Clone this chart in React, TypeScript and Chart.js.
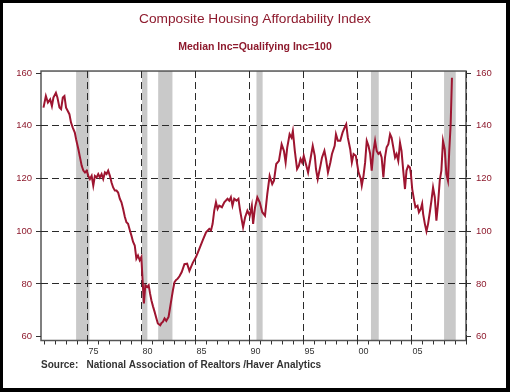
import { useEffect, useRef } from "react";
import { Chart, registerables } from "chart.js";

Chart.register(...registerables);

// ---- data ----
const years = [
  1970.88, 1971.1, 1971.29, 1971.5, 1971.66, 1971.8, 1972.03, 1972.17, 1972.36, 1972.51,
  1972.67, 1972.82, 1972.97, 1973.13, 1973.28, 1973.43, 1973.59, 1973.78, 1973.9, 1974.11,
  1974.26, 1974.42, 1974.57, 1974.72, 1974.88, 1975.03, 1975.18, 1975.34, 1975.49, 1975.64,
  1975.8, 1975.95, 1976.1, 1976.26, 1976.41, 1976.57, 1976.72, 1976.87, 1977.03, 1977.18,
  1977.33, 1977.49, 1977.64, 1977.79, 1977.95, 1978.1, 1978.25, 1978.41, 1978.56, 1978.71,
  1978.87, 1979.02, 1979.17, 1979.33, 1979.48, 1979.63, 1979.79, 1979.94, 1980.04, 1980.18,
  1980.31, 1980.5, 1980.62, 1980.74, 1980.87, 1981.02, 1981.17, 1981.33, 1981.47, 1981.69,
  1981.81, 1981.93, 1982.09, 1982.25, 1982.46, 1982.58, 1982.71, 1982.86, 1983.01, 1983.16,
  1983.31, 1983.47, 1983.68, 1983.93, 1984.18, 1984.39, 1984.7, 1985.0, 1985.31, 1985.62,
  1985.93, 1986.23, 1986.39, 1986.54, 1986.69, 1986.85, 1987.0, 1987.15, 1987.4, 1987.62,
  1987.92, 1988.08, 1988.23, 1988.38, 1988.54, 1988.75, 1988.93, 1989.06, 1989.25, 1989.36,
  1989.55, 1989.76, 1989.98, 1990.17, 1990.29, 1990.47, 1990.68, 1990.9, 1991.14, 1991.39,
  1991.6, 1991.82, 1992.06, 1992.22, 1992.43, 1992.68, 1992.93, 1993.14, 1993.3, 1993.45,
  1993.67, 1993.85, 1993.97, 1994.15, 1994.36, 1994.52, 1994.68, 1994.83, 1994.98, 1995.14,
  1995.38, 1995.6, 1995.81, 1996.0, 1996.11, 1996.27, 1996.52, 1996.67, 1996.89, 1997.04,
  1997.22, 1997.44, 1997.59, 1997.84, 1997.96, 1998.14, 1998.36, 1998.57, 1998.76, 1998.91,
  1999.06, 1999.28, 1999.43, 1999.59, 1999.8, 2000.05, 2000.26, 2000.35, 2000.51, 2000.66,
  2000.81, 2000.97, 2001.12, 2001.27, 2001.43, 2001.58, 2001.73, 2001.89, 2002.04, 2002.19,
  2002.35, 2002.5, 2002.65, 2002.81, 2002.97, 2003.11, 2003.27, 2003.43, 2003.57, 2003.73,
  2003.89, 2004.03, 2004.19, 2004.35, 2004.49, 2004.65, 2004.81, 2004.9, 2005.02, 2005.2,
  2005.32, 2005.51, 2005.64, 2005.82, 2005.94, 2006.03, 2006.19, 2006.34, 2006.49, 2006.65,
  2006.8, 2006.95, 2007.11, 2007.26, 2007.41, 2007.57, 2007.72, 2007.87, 2008.03, 2008.18,
  2008.33, 2008.45, 2008.58, 2008.7,
];

const affordability = [
  146.9, 151.3, 148.8, 150.0, 147.5, 150.7, 152.5, 150.7, 146.9, 146.3,
  150.7, 151.3, 146.9, 145.6, 144.4, 141.2, 139.3, 137.4, 134.9, 131.1,
  128.0, 124.8, 123.0, 122.3, 123.0, 121.0, 119.8, 121.0, 117.3, 121.0,
  120.4, 121.7, 120.4, 121.7, 119.8, 122.3, 121.7, 123.0, 121.0, 118.5,
  116.6, 115.4, 115.4, 114.7, 112.3, 111.0, 108.5, 105.5, 103.4, 102.8,
  100.5, 98.4, 96.0, 94.6, 89.6, 90.8, 89.0, 90.2, 82.6, 72.6,
  79.5, 78.8, 79.5, 76.5, 73.8, 71.5, 69.4, 67.0, 65.0, 64.3,
  65.2, 65.6, 66.9, 66.0, 67.5, 70.5, 73.8, 77.5, 80.7, 81.5,
  82.0, 82.9, 84.5, 87.5, 87.7, 85.0, 88.0, 90.2, 93.3, 96.5,
  99.6, 100.9, 100.3, 102.8, 107.8, 111.0, 108.5, 109.7, 109.1, 111.0,
  112.3, 111.6, 112.9, 109.7, 112.3, 111.6, 112.3, 108.5, 104.0, 101.5,
  105.3, 107.8, 105.9, 109.7, 102.8, 109.1, 112.9, 111.0, 107.2, 105.9,
  114.1, 121.0, 117.9, 119.2, 125.5, 126.7, 133.0, 130.5, 126.1, 131.8,
  136.8, 135.5, 138.0, 130.5, 123.6, 124.8, 127.4, 126.1, 128.6, 126.1,
  122.3, 127.4, 132.4, 128.6, 123.6, 119.8, 124.8, 128.0, 130.5, 127.4,
  122.3, 126.1, 129.3, 132.4, 136.8, 134.3, 134.3, 137.4, 139.3, 140.6,
  135.5, 131.1, 126.1, 129.3, 128.6, 122.3, 119.8, 117.3, 121.0, 126.1,
  134.3, 132.4, 129.5, 123.0, 130.5, 134.3, 130.5, 129.3, 129.9, 128.0,
  120.4, 128.0, 131.8, 133.0, 136.8, 135.5, 131.8, 128.0, 129.3, 126.7,
  133.6, 130.5, 123.0, 116.0, 123.0, 124.8, 124.2, 121.7, 116.0, 111.6,
  109.1, 109.7, 107.2, 108.5, 110.4, 106.6, 102.8, 100.0, 102.8, 107.2,
  111.6, 116.6, 112.9, 104.0, 110.4, 119.2, 123.0, 134.3, 131.1, 121.7,
  119.2, 130.5, 140.6, 158.2,
];

const recessionStarts = [1973.9, 1980.0, 1981.5, 1990.6, 2001.2, 2007.97];
const recessionEnds = [1975.13, 1980.5, 1982.82, 1991.17, 2001.92, 2009.05];

const yTickValues = [60, 80, 100, 120, 140, 160];
const xLabelYears = [1975, 1980, 1985, 1990, 1995, 2000, 2005];

const titleText = "Composite Housing Affordability Index";
const subtitleText = "Median Inc=Qualifying Inc=100";
const sourceText = "Source:   National Association of Realtors /Haver Analytics";

const X_MIN = 1970.65;
const X_MAX = 2010;
const Y_MIN = 58.55;
const Y_MAX = 160.76;

const FONT = "'Liberation Sans', Arial, Helvetica, sans-serif";
const RED = "#8E1B2E";
const LINE_RED = "#9E1530";
const GRID = "#2a2a2a";

const backdropPlugin = {
  id: "backdrop",
  beforeDraw(chart: any) {
    const { ctx, chartArea: a, scales } = chart;
    const x = scales.x;
    ctx.save();
    // outer black frame
    ctx.fillStyle = "#000";
    ctx.fillRect(0, 0, chart.width, chart.height);
    ctx.fillStyle = "#fff";
    ctx.fillRect(3, 3, chart.width - 7, chart.height - 7);
    // recession shading
    ctx.fillStyle = "#C9C9C9";
    for (let i = 0; i < recessionStarts.length; i++) {
      const x1 = Math.max(x.getPixelForValue(recessionStarts[i]), a.left);
      const x2 = Math.min(x.getPixelForValue(recessionEnds[i]), a.right);
      ctx.fillRect(x1, a.top, x2 - x1, a.bottom - a.top);
    }
    // plot frame
    ctx.strokeStyle = "#555";
    ctx.lineWidth = 1.5;
    ctx.strokeRect(a.left, a.top, a.right - a.left, a.bottom - a.top);
    ctx.restore();
  },
};

export default function App() {
  const ref = useRef<HTMLCanvasElement | null>(null);

  useEffect(() => {
    if (!ref.current) return;
    const points = years.map((yr, i) => ({ x: yr, y: affordability[i] }));
    const chart = new Chart(ref.current, {
      type: "line",
      data: {
        datasets: [
          {
            data: points,
            borderColor: LINE_RED,
            borderWidth: 2,
            pointRadius: 0,
            tension: 0,
            fill: false,
          },
        ],
      },
      options: {
        animation: false,
        responsive: false,
        events: [],
        layout: { padding: { top: 0, left: 0, right: 0, bottom: 0 } },
        plugins: {
          legend: { display: false },
          tooltip: { enabled: false },
          title: {
            display: true,
            text: titleText,
            color: RED,
            font: { family: FONT, size: 13.7, weight: "normal" },
            padding: { top: 11, bottom: 10 },
          },
          subtitle: {
            display: true,
            text: subtitleText,
            color: RED,
            font: { family: FONT, size: 10.5, weight: "bold" },
            padding: { top: 3, bottom: 18 },
          },
        },
        scales: {
          x: {
            type: "linear",
            min: X_MIN,
            max: X_MAX,
            afterFit: (s: any) => {
              s.height = 51.5;
            },
            ticks: {
              stepSize: 1,
              autoSkip: false,
              maxRotation: 0,
              minRotation: 0,
              includeBounds: false,
              labelOffset: 5.4,
              padding: 2,
              color: "#333",
              font: { family: FONT, size: 9 },
              callback: (v: any) => {
                const yr = Math.round(Number(v));
                return xLabelYears.includes(yr) ? String(yr).slice(2) : "";
              },
            },
            grid: {
              color: (c: any) => {
                const v = c.tick ? Math.round(c.tick.value) : 0;
                return v % 5 === 0 && v > X_MIN + 1 ? GRID : "rgba(0,0,0,0)";
              },
              tickColor: "#333",
              tickLength: 4,
              lineWidth: 1,
            },
            border: { display: false, dash: [7, 4] },
            title: {
              display: true,
              text: sourceText,
              align: "start",
              color: "#333",
              font: { family: FONT, size: 10, weight: "bold" },
              padding: { top: 0, bottom: 21 },
            },
          },
          y: {
            position: "left",
            min: Y_MIN,
            max: Y_MAX,
            afterFit: (s: any) => {
              s.width = 41;
            },
            afterBuildTicks: (s: any) => {
              s.ticks = yTickValues.map((v) => ({ value: v }));
            },
            ticks: {
              padding: 4,
              color: RED,
              font: { family: FONT, size: 9.5 },
            },
            grid: {
              color: (c: any) => {
                const v = c.tick ? c.tick.value : 0;
                return v > 60 && v < 160 ? GRID : "rgba(0,0,0,0)";
              },
              tickColor: "#333",
              tickLength: 5,
              lineWidth: 1,
            },
            border: { display: false, dash: [7, 4] },
          },
          y2: {
            position: "right",
            min: Y_MIN,
            max: Y_MAX,
            afterFit: (s: any) => {
              s.width = 44;
            },
            afterBuildTicks: (s: any) => {
              s.ticks = yTickValues.map((v) => ({ value: v }));
            },
            ticks: {
              padding: 5,
              color: RED,
              font: { family: FONT, size: 9.5 },
            },
            grid: {
              drawOnChartArea: false,
              tickColor: "#333",
              tickLength: 5,
            },
            border: { display: false },
          },
        },
      },
      plugins: [backdropPlugin],
    });
    return () => chart.destroy();
  }, []);

  return (
    <div style={{ position: "fixed", left: 0, top: 0, width: 510, height: 392 }}>
      <canvas ref={ref} width={510} height={392} style={{ display: "block" }} />
    </div>
  );
}
